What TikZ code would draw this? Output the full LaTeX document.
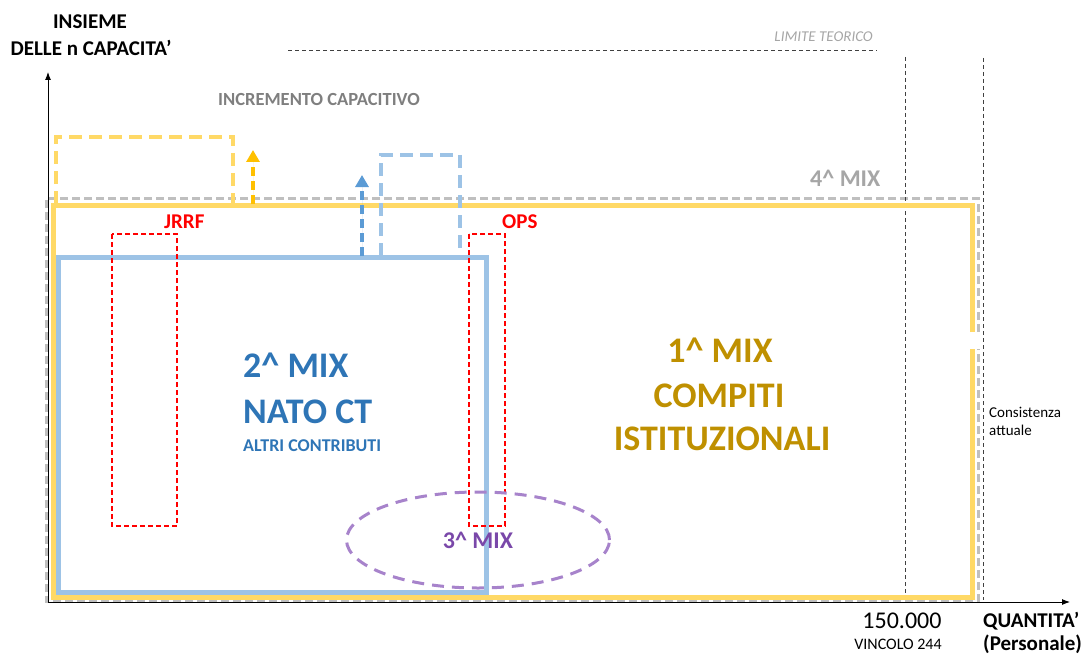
\documentclass[tikz,border=0pt]{standalone}
\usepackage{fontspec}
\setmainfont{Carlito}
\usepackage{tikz}
\usetikzlibrary{arrows.meta, positioning, shapes.geometric}
\definecolor{mixyellow}{HTML}{FFD966}
\definecolor{mixgold}{HTML}{BF9000}
\definecolor{incyellow}{HTML}{FFC000}
\definecolor{mixblue}{HTML}{9DC3E6}
\definecolor{mixbluetext}{HTML}{2E75B6}
\definecolor{incblue}{HTML}{5B9BD5}
\definecolor{mixgray}{HTML}{BFBFBF}
\definecolor{labelgray}{HTML}{7F7F7F}
\definecolor{lightlabel}{HTML}{A6A6A6}
\definecolor{opsred}{HTML}{FF0000}
\definecolor{mixpurple}{HTML}{A783CB}
\definecolor{mixpurpletext}{HTML}{7A48A9}
\definecolor{guidegray}{HTML}{404040}
\newcommand{\fsz}[1]{\fontsize{#1}{#1}\selectfont}
\tikzset{
  axisline/.style={
    -{Latex[length=8pt,width=6pt]},
    draw=black,
    line width=0.9pt
  },
  guideline/.style={
    draw=guidegray,
    line width=1pt,
    dash pattern=on 4pt off 3pt
  },
  grayframe/.style={
    draw=mixgray,
    line width=3pt,
    dash pattern=on 8pt off 4pt
  },
  yellowframe/.style={
    draw=mixyellow,
    line width=5pt
  },
  blueframe/.style={
    draw=mixblue,
    line width=5pt
  },
  redbox/.style={
    draw=opsred,
    line width=1.5pt,
    dash pattern=on 5pt off 3pt
  },
  incbox/.style={
    line width=4pt,
    dash pattern=on 13pt off 7pt
  },
  incarrow/.style={
    -{Triangle[length=12pt,width=13pt]},
    line width=4pt,
    dash pattern=on 9pt off 5pt
  },
  txt/.style={
    inner sep=0pt,
    anchor=base
  }
}

\begin{document}
\begin{tikzpicture}[x=1pt, y=-1pt]
  \useasboundingbox (0,0) rectangle (1091,655);

  % 4^ mix and theoretical limits
  \draw[grayframe] (978,332) -- (978,198) -- (46,198) -- (46,601) -- (978,601) -- (978,349);
  \draw[guideline] (288,51) -- (877,51);
  \draw[guideline] (905,57) -- (905,598);
  \draw[guideline] (983,58) -- (983,600);

  % 1^ mix
  \draw[yellowframe] (972,332) -- (972,205) -- (53,205) -- (53,597) -- (972,597) -- (972,349);
  \draw[incbox, draw=mixyellow] (56,204) -- (56,137) -- (233,137) -- (233,204);
  \coordinate (yinc0) at (253,204);
  \coordinate (yinc1) at (253,150);
  \draw[incarrow, draw=incyellow, fill=incyellow] (yinc0) -- (yinc1);

  % 2^ mix
  \draw[blueframe] (58,257) rectangle (486,592);
  \draw[incbox, draw=mixblue] (381,256) -- (381,155) -- (460,155) -- (460,256);
  \coordinate (binc0) at (362,256);
  \coordinate (binc1) at (362,175);
  \draw[incarrow, draw=incblue, fill=incblue] (binc0) -- (binc1);

  % JRRF / OPS
  \draw[redbox] (112,234) rectangle (177,526);
  \draw[redbox] (469,234) rectangle (505,526);

  % 3^ mix
  \node[ellipse, draw=mixpurple, line width=3pt, dash pattern=on 12pt off 8pt,
        minimum width=263pt, minimum height=96pt, inner sep=0pt,
        font=\fsz{24}\bfseries, text=mixpurpletext] (mix3) at (478,540) {3\textasciicircum{} MIX};

  % axes
  \coordinate (origin) at (48,602);
  \coordinate (ytip) at (48,72);
  \coordinate (xtip) at (1070,602);
  \draw[axisline] (origin) -- (ytip);
  \draw[axisline] (origin) -- (xtip);

  % Labels
  \node[txt, font=\fsz{21}\bfseries] (yname1) at (90,29) {INSIEME};
  \node[txt, font=\fsz{21}\bfseries] (yname2) at (91,56) {DELLE n CAPACITA'};
  \node[txt, anchor=base east, font=\fsz{15}\itshape, text=lightlabel] (limit) at (873,42) {LIMITE TEORICO};
  \node[txt, anchor=base west, font=\fsz{18.5}\bfseries, text=labelgray] (incr) at (218,106) {INCREMENTO CAPACITIVO};
  \node[txt, anchor=base west, font=\fsz{24}\bfseries, text=lightlabel] (mix4) at (810,186) {4\textasciicircum{} MIX};
  \node[txt, anchor=base west, font=\fsz{21}\bfseries, text=opsred] (jrrf) at (164,228) {JRRF};
  \node[txt, anchor=base west, font=\fsz{21}\bfseries, text=opsred] (ops) at (502,228) {OPS};
  \node[txt, anchor=base west, font=\fsz{36}\bfseries, text=mixbluetext] (mix2a) at (243,377) {2\textasciicircum{} MIX};
  \node[txt, anchor=base west, font=\fsz{36}\bfseries, text=mixbluetext] (mix2b) at (243,423) {NATO CT};
  \node[txt, anchor=base west, font=\fsz{18}\bfseries, text=mixbluetext] (mix2c) at (243,451) {ALTRI CONTRIBUTI};
  \node[txt, font=\fsz{36}\bfseries, text=mixgold] (mix1a) at (720,362) {1\textasciicircum{} MIX};
  \node[txt, font=\fsz{36}\bfseries, text=mixgold] (mix1b) at (719,407) {COMPITI};
  \node[txt, font=\fsz{36}\bfseries, text=mixgold] (mix1c) at (722,450) {ISTITUZIONALI};
  \node[txt, anchor=base west, font=\fsz{15}] (cons1) at (989,417) {Consistenza};
  \node[txt, anchor=base west, font=\fsz{15}] (cons2) at (989,435) {attuale};
  \node[txt, font=\fsz{24}] (limval) at (902,628) {150.000};
  \node[txt, font=\fsz{16}] (limname) at (898,649) {VINCOLO 244};
  \node[txt, anchor=base west, font=\fsz{21}\bfseries] (xname1) at (983,627) {QUANTITA'};
  \node[txt, anchor=base west, font=\fsz{21}\bfseries] (xname2) at (983,650) {(Personale)};
\end{tikzpicture}
\end{document}
